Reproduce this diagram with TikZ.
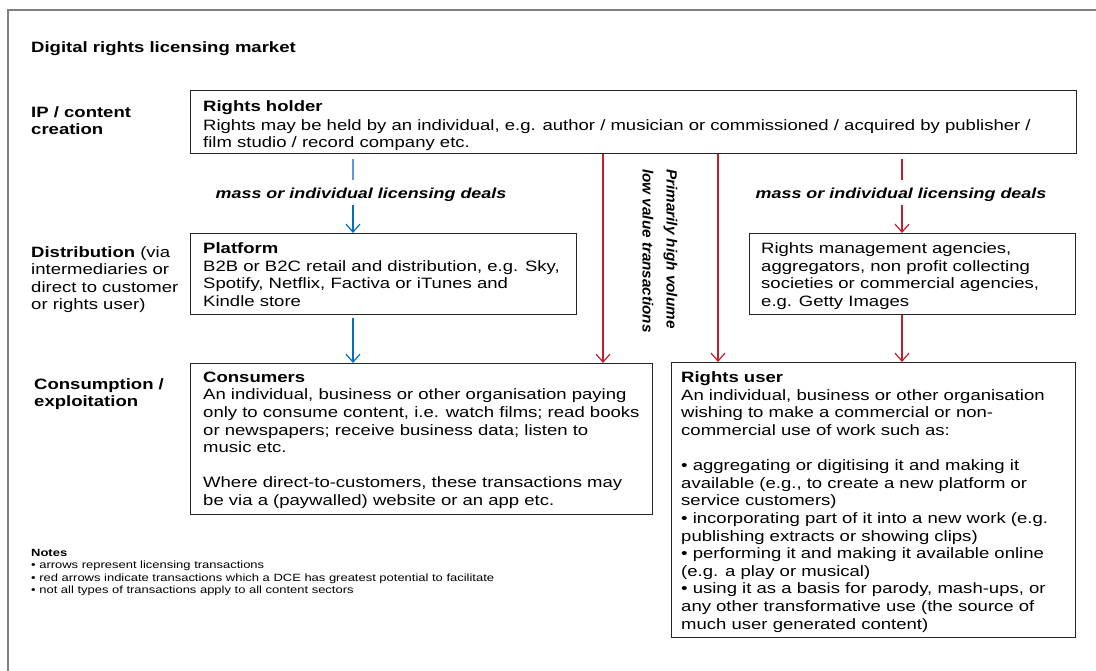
\documentclass[tikz,border=0pt]{standalone}
\usepackage{fontspec}
\setmainfont{Liberation Sans}[FakeStretch=1.235]
\newfontfamily\rotfont{Liberation Sans}[FakeStretch=1.03]
\usetikzlibrary{arrows.meta}
\definecolor{dkblue}{RGB}{0,112,192}
\definecolor{ltblue}{RGB}{91,155,213}
\definecolor{dkred}{RGB}{196,30,45}
\definecolor{framegray}{RGB}{128,128,128}
\begin{document}
\begin{tikzpicture}[x=1pt,y=-1pt,
  box/.style={draw=black!85, line width=1pt, rectangle, inner sep=0pt, anchor=north west},
  txt/.style={anchor=north west, inner sep=0pt, align=left, font=\fontsize{15}{17.6}\selectfont},
  side/.style={anchor=north west, inner sep=0pt, align=left, font=\fontsize{15}{17.2}\selectfont},
  deal/.style={inner sep=0pt, font=\fontsize{14.5}{17}\selectfont\bfseries\itshape},
  notestyle/.style={anchor=north west, inner sep=0pt, align=left, font=\fontsize{10.5}{12.3}\selectfont},
  bluearr/.style={draw=dkblue, line width=1.2pt, -{Straight Barb[length=8pt,width=14pt]}},
  blueline/.style={draw=ltblue, line width=1.2pt},
  redarr/.style={draw=dkred, line width=1.2pt, -{Straight Barb[length=8pt,width=14pt]}},
  redline/.style={draw=dkred, line width=1.2pt}
]
\useasboundingbox (0,0) rectangle (1096,671);
\fill[white] (0,0) rectangle (1096,671);
\draw[framegray, line width=1.3pt] (8,671) -- (8,10) -- (1096,10);

% title and row labels
\node[side] (title) at (31,41.6) {\textbf{Digital rights licensing market}};
\node[side] (row1) at (31,106.6) {\textbf{IP / content}\\\textbf{creation}};
\node[side] (row2) at (31,246.6) {\textbf{Distribution} (via\\intermediaries or\\direct to customer\\or rights user)};
\node[side] (row3) at (34,378.6) {\textbf{Consumption /}\\\textbf{exploitation}};

% boxes
\node[box, minimum width=886pt, minimum height=63pt] (rh) at (190,90) {};
\node[box, minimum width=386pt, minimum height=81pt] (pf) at (190,233) {};
\node[box, minimum width=462pt, minimum height=151pt] (cons) at (190,363) {};
\node[box, minimum width=326pt, minimum height=81pt] (agn) at (749,233) {};
\node[box, minimum width=404pt, minimum height=275pt] (ru) at (671,362) {};

% box texts
\node[txt] (rht) at (203,100) {\textbf{Rights holder}\\[1.5pt]Rights may be held by an individual, e.g. author / musician or commissioned / acquired by publisher /\\film studio / record company etc.};
\node[txt] (pft) at (203,242.6) {\textbf{Platform}\\B2B or B2C retail and distribution, e.g. Sky,\\Spotify, Netflix, Factiva or iTunes and\\Kindle store};
\node[txt] (const) at (203,371.6) {\textbf{Consumers}\\An individual, business or other organisation paying\\only to consume content, i.e. watch films; read books\\or newspapers; receive business data; listen to\\music etc.\\[17.6pt]Where direct-to-customers, these transactions may\\be via a (paywalled) website or an app etc.};
\node[txt] (agnt) at (761,242.6) {Rights management agencies,\\aggregators, non profit collecting\\societies or commercial agencies,\\e.g. Getty Images};
\node[txt] (rut) at (681,371.6) {\textbf{Rights user}\\An individual, business or other organisation\\wishing to make a commercial or non-\\commercial use of work such as:\\[17.6pt]• aggregating or digitising it and making it\\available (e.g., to create a new platform or\\service customers)\\• incorporating part of it into a new work (e.g.\\publishing extracts or showing clips)\\• performing it and making it available online\\(e.g. a play or musical)\\• using it as a basis for parody, mash-ups, or\\any other transformative use (the source of\\much user generated content)};

% labels on arrows
\node[deal] (lab1) at (361,195) {mass or individual licensing deals};
\node[deal] (lab2) at (901,195) {mass or individual licensing deals};
\node[rotate=-90, inner sep=0pt, align=left, font=\rotfont\fontsize{14.8}{24}\selectfont\bfseries\itshape] (rot) at (660,251) {Primarily high volume\\low value transactions};

% notes
\node[notestyle] (notes) at (31,549) {\textbf{Notes}\\• arrows represent licensing transactions\\• red arrows indicate transactions which a DCE has greatest potential to facilitate\\• not all types of transactions apply to all content sectors};

% arrow coordinates
\coordinate (bl1) at (353,180);
\coordinate (bl2) at (353,205);
\coordinate (rl1) at (902,180);
\coordinate (rl2) at (902,205);
\coordinate (r1) at (603,0);
\coordinate (r2) at (718,0);

% connectors
\draw[blueline] ([yshift=-5pt]rh.south -| bl1) -- (bl1);
\draw[bluearr] (bl2) -- (bl2 |- pf.north);
\draw[bluearr] ([yshift=-3pt]pf.south -| bl2) -- (cons.north -| bl2);
\draw[redarr] (rh.south -| r1) -- (cons.north -| r1);
\draw[redarr] (rh.south -| r2) -- (ru.north -| r2);
\draw[redline] ([yshift=-5pt]rh.south -| rl1) -- (rl1);
\draw[redarr] (rl2) -- (rl2 |- agn.north);
\draw[redarr] (agn.south -| rl2) -- (ru.north -| rl2);
\end{tikzpicture}
\end{document}
